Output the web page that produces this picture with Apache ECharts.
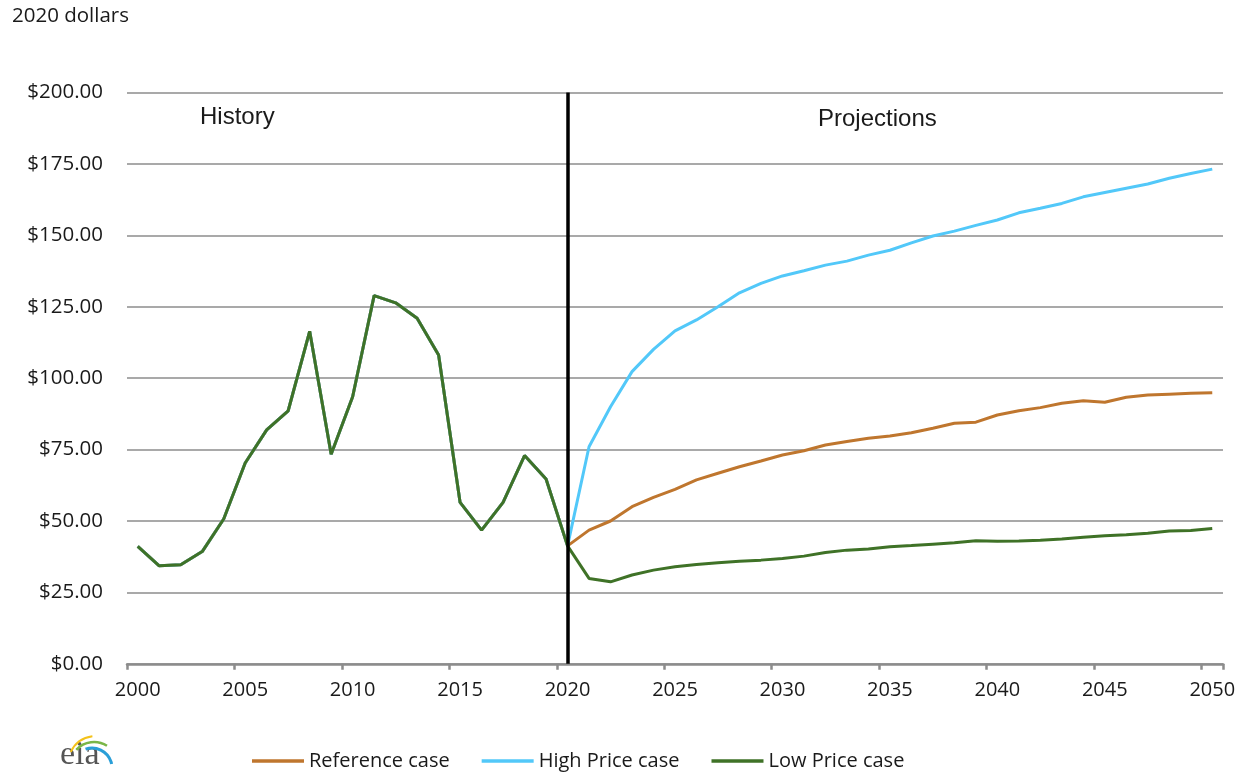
<!DOCTYPE html>
<html>
<head>
<meta charset="utf-8">
<script src="https://cdn.jsdelivr.net/npm/echarts@6/dist/echarts.min.js"></script>
<style>
  html, body { margin: 0; padding: 0; background: #fff; }
  #chart { width: 1244px; height: 773px; }
</style>
</head>
<body>
<div id="chart"></div>
<script>
// Years 2000..2050
const years = [];
for (let y = 2000; y <= 2050; y++) years.push(String(y));

// History 2000-2020 (shared by all cases)
const history = [41.1, 34.3, 34.7, 39.3, 50.7, 70.3, 81.9, 88.6, 116.4, 73.4,
  93.5, 128.9, 126.4, 121.0, 108.1, 56.5, 46.8, 56.5, 72.9, 64.7, 41.3];

// Projections 2021-2050
const referenceProj = [46.8, 50.0, 55.0, 58.3, 61.1, 64.4, 66.7, 69.0, 71.0, 73.1,
  74.6, 76.6, 77.8, 79.0, 79.8, 80.9, 82.5, 84.2, 84.6, 87.1,
  88.6, 89.7, 91.2, 92.1, 91.6, 93.3, 94.1, 94.4, 94.7, 94.9];
const highProj = [76.0, 90.0, 102.3, 110.1, 116.6, 120.4, 125.0, 129.9, 133.2, 135.8,
  137.6, 139.6, 141.0, 143.1, 144.8, 147.4, 149.8, 151.5, 153.5, 155.4,
  157.9, 159.5, 161.2, 163.5, 165.0, 166.5, 168.0, 170.0, 171.7, 173.2];
const lowProj = [29.9, 28.7, 31.1, 32.8, 34.0, 34.8, 35.4, 35.9, 36.3, 36.9,
  37.7, 39.0, 39.8, 40.2, 41.0, 41.4, 41.9, 42.4, 43.1, 42.9,
  43.0, 43.3, 43.7, 44.3, 44.8, 45.2, 45.7, 46.5, 46.7, 47.4];

const referenceCase = history.concat(referenceProj);
const highCase = history.concat(highProj);
const lowCase = history.concat(lowProj);

const yTicks = [0, 25, 50, 75, 100, 125, 150, 175, 200];
const dividerYear = '2020';

const FONT = '"Open Sans", "Noto Sans", sans-serif';
const ARIAL = '"Liberation Sans", Arial, sans-serif';

const myChart = echarts.init(document.getElementById('chart'));

const option = {
  animation: false,
  backgroundColor: '#ffffff',
  grid: { left: 127, right: 21, top: 92.6, bottom: 109.2 },
  xAxis: {
    type: 'category',
    data: years,
    boundaryGap: true,
    axisLine: { lineStyle: { color: '#8c8c8c', width: 2.5 } },
    axisTick: { show: true, interval: 4, length: 6, lineStyle: { color: '#8c8c8c', width: 2.5 } },
    axisLabel: { interval: 4, color: '#1a1a1a', fontSize: 20, fontFamily: FONT, margin: 16 },
    splitLine: { show: false }
  },
  yAxis: {
    type: 'value',
    min: yTicks[0],
    max: yTicks[yTicks.length - 1],
    interval: 25,
    axisLine: { show: false },
    axisTick: { show: false },
    axisLabel: {
      color: '#1a1a1a', fontSize: 20.5, fontFamily: FONT, margin: 24,
      formatter: v => '$' + v.toFixed(2)
    },
    splitLine: { lineStyle: { color: '#8c8c8c', width: 1.5 } }
  },
  legend: {
    top: 746,
    left: 247,
    icon: 'rect',
    itemWidth: 52,
    itemHeight: 3.5,
    itemGap: 32,
    textStyle: { color: '#1a1a1a', fontSize: 20, fontFamily: FONT },
    data: ['Reference case', 'High Price case', 'Low Price case']
  },
  graphic: [
    { type: 'text', left: 12, top: 6, style: { text: '2020 dollars', fontSize: 20.5, fontFamily: FONT, fill: '#1a1a1a' } },
    { type: 'text', left: 200, top: 105, style: { text: 'History', fontSize: 24, fontFamily: ARIAL, fill: '#1a1a1a' } },
    { type: 'text', left: 818, top: 107, style: { text: 'Projections', fontSize: 24, fontFamily: ARIAL, fill: '#1a1a1a' } },
    // eia logo
    { type: 'text', left: 60, top: 738, style: { text: 'eia', fontSize: 34, fontFamily: '"Liberation Serif", "DejaVu Serif", serif', fill: '#555' } },
    { type: 'arc', shape: { cx: 96, cy: 764, r: 28, startAngle: -2.7, endAngle: -1.7 }, style: { stroke: '#f4c21a', lineWidth: 2, fill: null } },
    { type: 'arc', shape: { cx: 94, cy: 766, r: 24, startAngle: -2.4, endAngle: -1.0 }, style: { stroke: '#7ab648', lineWidth: 2.5, fill: null } },
    { type: 'arc', shape: { cx: 92, cy: 768, r: 20, startAngle: -1.9, endAngle: -0.2 }, style: { stroke: '#2a9fd8', lineWidth: 3, fill: null } }
  ],
  series: [
    {
      name: 'Reference case',
      type: 'line',
      data: referenceCase,
      symbol: 'none',
      lineStyle: { color: '#bf762e', width: 3 },
      itemStyle: { color: '#bf762e' }
    },
    {
      name: 'High Price case',
      type: 'line',
      data: highCase,
      symbol: 'none',
      lineStyle: { color: '#52c8f9', width: 3 },
      itemStyle: { color: '#52c8f9' }
    },
    {
      name: 'Low Price case',
      type: 'line',
      data: lowCase,
      symbol: 'none',
      lineStyle: { color: '#3f7227', width: 3 },
      itemStyle: { color: '#3f7227' },
      markLine: {
        silent: true,
        symbol: ['none', 'none'],
        label: { show: false },
        lineStyle: { color: '#000000', width: 3.5, type: 'solid' },
        data: [{ xAxis: dividerYear }]
      }
    }
  ]
};

myChart.setOption(option);
window.addEventListener('resize', () => myChart.resize());
</script>
</body>
</html>
